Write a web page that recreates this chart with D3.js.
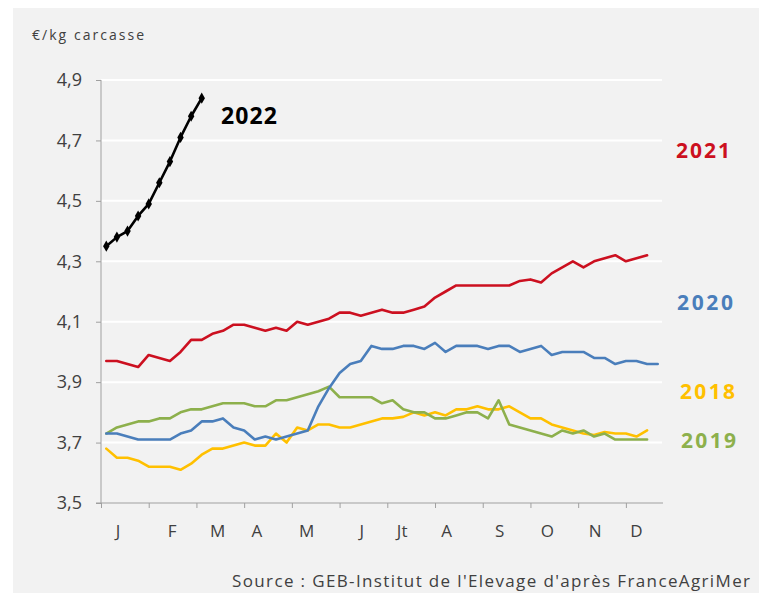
<!DOCTYPE html>
<html><head><meta charset="utf-8">
<script src="https://cdn.jsdelivr.net/npm/d3@7"></script>
<style>
body{margin:0;background:#fff;}
text{font-family:"Open Sans","DejaVu Sans",sans-serif;}
</style>
</head><body>
<svg id="chart" width="759" height="593"></svg>
<script>
// ---- data (weekly prices, €/kg carcasse) ----
const series2018 = [3.68,3.65,3.65,3.64,3.62,3.62,3.62,3.61,3.63,3.66,3.68,3.68,3.69,3.70,
  3.69,3.69,3.73,3.70,3.75,3.74,3.76,3.76,3.75,3.75,3.76,3.77,
  3.78,3.78,3.785,3.80,3.79,3.80,3.79,3.81,3.81,3.82,3.81,3.81,3.82,
  3.80,3.78,3.78,3.76,3.75,3.74,3.73,3.725,3.735,3.73,3.73,3.72,3.74];
const series2019 = [3.73,3.75,3.76,3.77,3.77,3.78,3.78,3.80,3.81,3.81,3.82,3.83,3.83,3.83,
  3.82,3.82,3.84,3.84,3.85,3.86,3.87,3.885,3.85,3.85,3.85,3.85,
  3.83,3.84,3.81,3.80,3.80,3.78,3.78,3.79,3.80,3.80,3.78,3.84,3.76,
  3.75,3.74,3.73,3.72,3.74,3.73,3.74,3.72,3.73,3.71,3.71,3.71,3.71];
const series2020 = [3.73,3.73,3.72,3.71,3.71,3.71,3.71,3.73,3.74,3.77,3.77,3.78,3.75,3.74,
  3.71,3.72,3.71,3.72,3.73,3.74,3.82,3.88,3.93,3.96,3.97,4.02,
  4.01,4.01,4.02,4.02,4.01,4.03,4.00,4.02,4.02,4.02,4.01,4.02,4.02,4.00,
  4.01,4.02,3.99,4.00,4.00,4.00,3.98,3.98,3.96,3.97,3.97,3.96,3.96];
const series2021 = [3.97,3.97,3.96,3.95,3.99,3.98,3.97,4.00,4.04,4.04,4.06,4.07,4.09,4.09,
  4.08,4.07,4.08,4.07,4.10,4.09,4.10,4.11,4.13,4.13,4.12,4.13,4.14,
  4.13,4.13,4.14,4.15,4.18,4.20,4.22,4.22,4.22,4.22,4.22,4.22,4.235,
  4.24,4.23,4.26,4.28,4.30,4.28,4.30,4.31,4.32,4.30,4.31,4.32];
const series2022 = [4.35,4.38,4.40,4.45,4.49,4.56,4.63,4.71,4.78,4.84];

const yTickValues = [3.5,3.7,3.9,4.1,4.3,4.5,4.7,4.9];
const monthLabels = ["J","F","M","A","M","J","Jt","A","S","O","N","D"];
const monthLabelWeeks = [2.1,7.2,11.5,15.2,19.9,25.1,28.9,33.1,38.1,42.6,47.1,51.0];
const xTickWeeks = [0.5,5,9.5,14,18.5,23,27.5,32,36.5,41,45.5,50];

const seriesList = [
  {name:"2018", values:series2018, color:"#ffc000"},
  {name:"2019", values:series2019, color:"#8db04c"},
  {name:"2020", values:series2020, color:"#4a7ebb"},
  {name:"2021", values:series2021, color:"#cc1020"},
  {name:"2022", values:series2022, color:"#000000"}
];
const seriesLabels = [
  {name:"2021", color:"#cc1020", lx:676, ly:158, w:54},
  {name:"2020", color:"#4a7ebb", lx:677, ly:310, w:56},
  {name:"2018", color:"#ffc000", lx:680, ly:399, w:55},
  {name:"2019", color:"#8db04c", lx:681, ly:448, w:55},
  {name:"2022", color:"#000000", lx:221, ly:124, w:56}
];

// ---- drawing ----
const svg = d3.select("#chart");
svg.append("rect").attr("x",13).attr("y",8).attr("width",746).attr("height",585).attr("fill","#f2f2f2");

const x = d3.scaleLinear().domain([0.5,53.5]).range([101,663]);
const y = d3.scaleLinear().domain([3.5,4.9]).range([503,80]);

// gridlines
svg.append("g").selectAll("line").data(yTickValues.slice(1)).join("line")
  .attr("x1",101).attr("x2",662).attr("y1",d=>y(d)).attr("y2",d=>y(d))
  .attr("stroke","#ffffff").attr("stroke-width",2);

// y axis
const yAxis = svg.append("g").attr("transform","translate(101,0)")
  .call(d3.axisLeft(y).tickValues(yTickValues).tickSize(5).tickPadding(14)
    .tickFormat(d=>d3.format(".1f")(d).replace(".",",")));
yAxis.select(".domain").attr("stroke","#a0a0a0").attr("d","M0,"+y(4.9)+"V"+y(3.5));
yAxis.selectAll(".tick line").attr("stroke","#a0a0a0");
yAxis.selectAll(".tick text").attr("fill","#404040").attr("font-size",18);

// x axis
const xAxis = svg.append("g").attr("transform","translate(0,503)")
  .call(d3.axisBottom(x).tickValues(xTickWeeks).tickSize(5).tickFormat(""));
xAxis.select(".domain").attr("stroke","#a0a0a0").attr("d","M96,0H663");
xAxis.selectAll(".tick line").attr("stroke","#a0a0a0");

svg.append("g").selectAll("text").data(monthLabels).join("text")
  .attr("x",(d,i)=>x(monthLabelWeeks[i])).attr("y",537)
  .attr("text-anchor","middle").attr("font-size",17).attr("fill","#404040").text(d=>d);

// y title
svg.append("text").attr("x",32).attr("y",40).attr("font-size",14).attr("fill","#404040")
  .attr("textLength",112).attr("lengthAdjust","spacing").text("€/kg carcasse");

// lines
const line = d3.line().x((d,i)=>x(i+1)).y(d=>y(d));
svg.append("g").selectAll("path").data(seriesList).join("path")
  .attr("d",d=>line(d.values)).attr("fill","none")
  .attr("stroke",d=>d.color).attr("stroke-width",2.6)
  .attr("stroke-linejoin","round").attr("stroke-linecap","round");

// 2022 markers
svg.append("g").selectAll("path").data(series2022).join("path")
  .attr("transform",(d,i)=>`translate(${x(i+1)},${y(d)})`)
  .attr("d",d3.symbol(d3.symbolDiamond,36)).attr("fill","#000");

// series labels
svg.append("g").selectAll("text").data(seriesLabels).join("text")
  .attr("x",d=>d.lx).attr("y",d=>d.ly).attr("font-size",d=>d.name==="2022"?23:21)
  .attr("textLength",d=>d.w).attr("lengthAdjust","spacing")
  .attr("font-weight","bold").attr("fill",d=>d.color).text(d=>d.name);

// source
svg.append("text").attr("x",232).attr("y",587).attr("font-size",17).attr("fill","#404040")
  .attr("textLength",518).attr("lengthAdjust","spacing")
  .text("Source : GEB-Institut de l'Elevage d'après FranceAgriMer");
</script>
</body></html>
